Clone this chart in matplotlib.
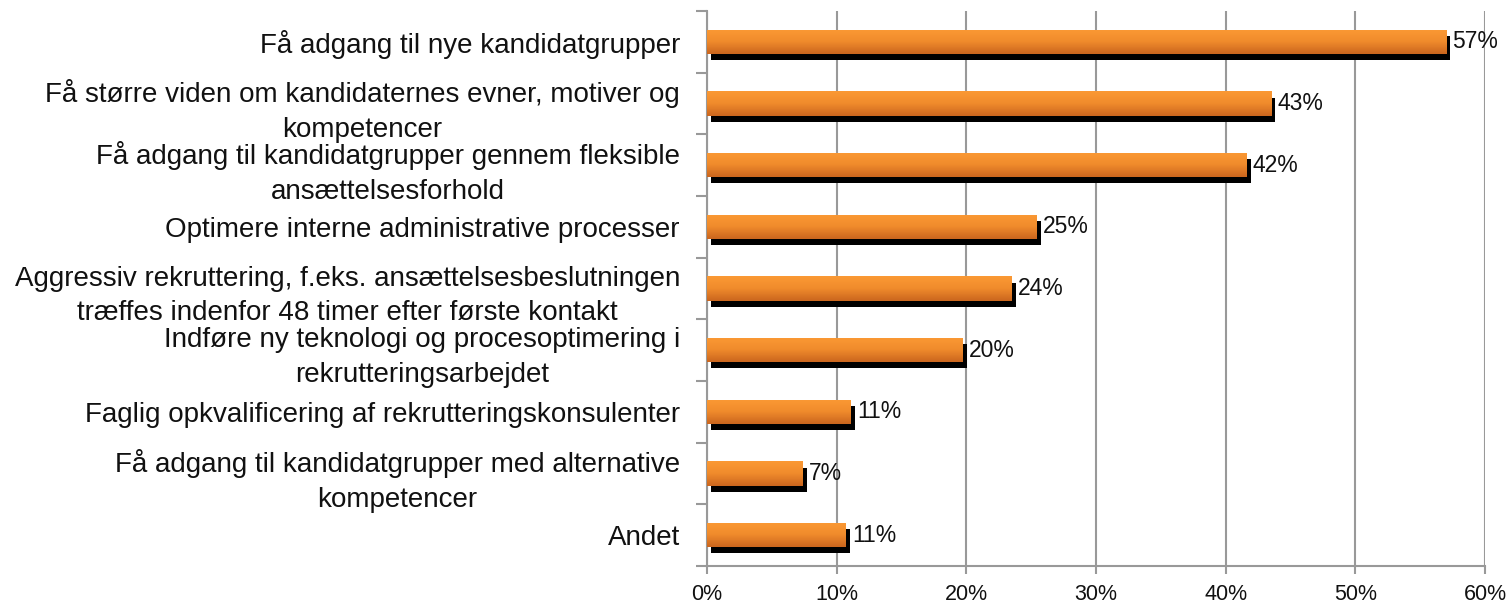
import matplotlib
matplotlib.use('Agg')
import matplotlib.pyplot as plt
import matplotlib.patheffects as pe
from matplotlib.colors import LinearSegmentedColormap
import numpy as np

plt.rcParams['font.family'] = ['Liberation Sans', 'DejaVu Sans']

categories = [
    'Få adgang til nye kandidatgrupper',
    'Få større viden om kandidaternes evner, motiver og\nkompetencer',
    'Få adgang til kandidatgrupper gennem fleksible\nansættelsesforhold',
    'Optimere interne administrative processer',
    'Aggressiv rekruttering, f.eks. ansættelsesbeslutningen\ntræffes indenfor 48 timer efter første kontakt',
    'Indføre ny teknologi og procesoptimering i\nrekrutteringsarbejdet',
    'Faglig opkvalificering af rekrutteringskonsulenter',
    'Få adgang til kandidatgrupper med alternative\nkompetencer',
    'Andet',
]
values = [57.0, 43.5, 41.6, 25.4, 23.5, 19.7, 11.1, 7.4, 10.7]
value_labels = ['57%', '43%', '42%', '25%', '24%', '20%', '11%', '7%', '11%']
xticks = [0, 10, 20, 30, 40, 50, 60]

grid_col = '#999999'
orange = LinearSegmentedColormap.from_list('orange', ['#FB9934', '#F08B2C', '#CB661E'])

fig = plt.figure(figsize=(15.12, 6.08), dpi=100)
ax = fig.add_axes([707 / 1512, 1 - 566 / 608, (1485 - 707) / 1512, (566 - 11) / 608])

n = len(categories)
ypos = np.arange(n)[::-1]
h = 0.39

bars = ax.barh(ypos, values, height=h, color='#F08B2C', zorder=2,
               path_effects=[pe.SimplePatchShadow(offset=(3, -4.5), shadow_rgbFace='black', alpha=1.0),
                             pe.Normal()])

# vertical orange gradient inside each bar
grad = np.linspace(0, 1, 64).reshape(-1, 1)
for b in bars:
    x0, y0, w, hh = b.get_x(), b.get_y(), b.get_width(), b.get_height()
    im = ax.imshow(grad, extent=[x0, x0 + w, y0, y0 + hh], origin='upper', cmap=orange,
                   aspect='auto', zorder=3, interpolation='bilinear')
    im.set_clip_path(b)

for b, lab in zip(bars, value_labels):
    ax.annotate(lab, xy=(b.get_width(), b.get_y() + b.get_height() / 2),
                xytext=(4.5, 0), textcoords='offset points', ha='left', va='center',
                fontsize=16.5, color='#111111', zorder=4)

ax.set_xlim(0, 60)
ax.set_ylim(-0.5, n - 0.5)
ax.set_aspect('auto')

ax.set_xticks(xticks, [f'{t}%' for t in xticks])
ax.set_yticks(ypos, categories, multialignment='center', linespacing=1.45)
ax.set_yticks(np.arange(-0.5, n, 1.0), minor=True)

ax.tick_params(axis='y', which='major', length=0, pad=19.5, labelsize=20, labelcolor='#111111')
ax.tick_params(axis='y', which='minor', length=8, width=1.5, color=grid_col, direction='out')
ax.tick_params(axis='x', which='major', length=6, width=1.5, color=grid_col, direction='out',
               labelsize=15.5, labelcolor='#111111', pad=7)

ax.xaxis.grid(True, color=grid_col, linewidth=1.5, zorder=0)
ax.set_axisbelow(True)
for s in ['top', 'right']:
    ax.spines[s].set_visible(False)
for s in ['left', 'bottom']:
    ax.spines[s].set_color(grid_col)
    ax.spines[s].set_linewidth(1.5)

fig.savefig('out.png', dpi=100)
